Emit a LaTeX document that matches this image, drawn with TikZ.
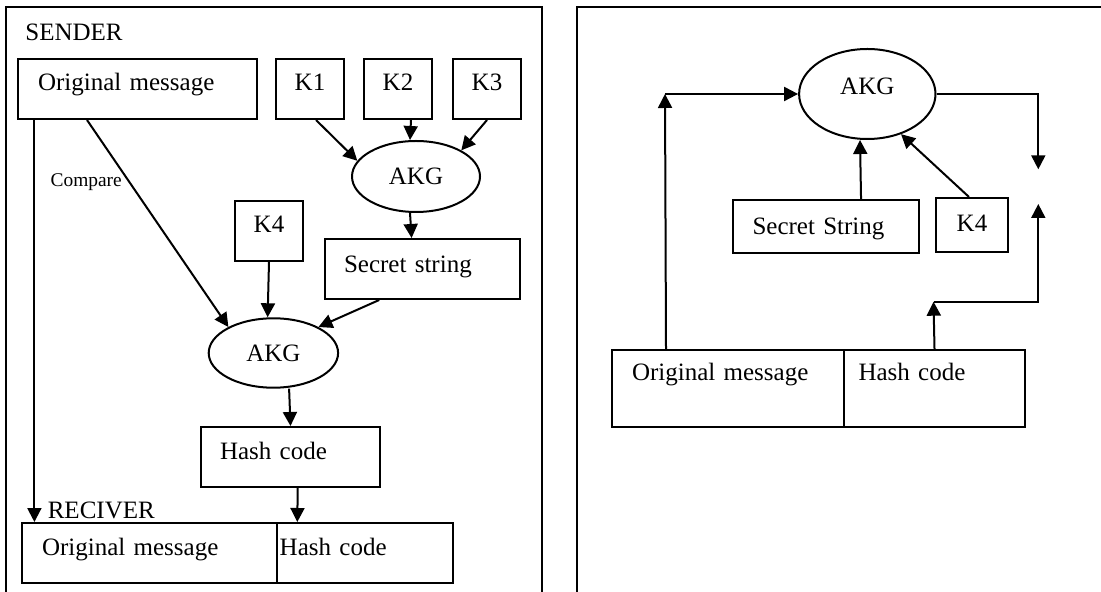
\documentclass[tikz,border=0pt]{standalone}
\usepackage{fontspec}
\setmainfont{Liberation Serif}
\usetikzlibrary{arrows.meta, shapes.geometric}

\tikzset{
  frame/.style={line width=1pt},
  box/.style={draw, line width=1pt, anchor=north west, inner ysep=0pt, align=left},
  kbox/.style={draw, line width=1pt, anchor=north west, inner sep=0pt, align=center,
    text width=34pt, text height=16pt, text depth=14pt},
  akg/.style={draw, ellipse, line width=1pt, inner sep=0pt},
  arr/.style={-{Triangle[length=7pt,width=7pt]}, line width=1pt},
  title/.style={anchor=base west, inner sep=0pt},
}

\begin{document}
\begin{tikzpicture}[x=0.5pt, y=-0.5pt, font=\fontsize{12.5}{15}\selectfont]
  \useasboundingbox (0,0) rectangle (1101,592);
  % the two frames
  \draw[frame] (6,600) -- (6,7) -- (542,7) -- (542,600);
  \draw[frame] (577,600) -- (577,7) -- (1110,7);

  % sender
  \node[title] (sender) at (25,41) {SENDER};
  \node[box, inner xsep=10pt, text width=99.5pt, text height=16pt, text depth=14pt] (msgA) at (17,58) {Original message};
  \node[kbox] (k1) at (275,58) {K1};
  \node[kbox] (k2) at (363,58) {K2};
  \node[kbox] (k3) at (452,58) {K3};
  \node[akg, minimum width=64pt, minimum height=35.5pt] (akgA) at (416,176.5) {AKG};
  \node[kbox] (k4A) at (234,200) {K4};
  \node[box, inner xsep=9.5pt, text width=78.6pt, text height=17pt, text depth=13pt] (secA) at (324,238) {Secret string};
  \node[akg, minimum width=64.7pt, minimum height=34.7pt] (akgB) at (273.4,353) {AKG};
  \node[box, inner xsep=9.5pt, text width=70.5pt, text height=16pt, text depth=14pt] (hashA) at (200,426) {Hash code};

  % reciver
  \node[title] (reciver) at (47.4,518.3) {RECIVER};
  \node[box, inner xsep=10pt, text width=107.3pt, text height=16pt, text depth=14pt] (msgR) at (21,522) {Original message};
  \node[box, inner xsep=1.5pt, text width=85pt, text height=16pt, text depth=14pt] (hashR) at (275.7,522) {Hash code};

  \draw[arr] ([xshift=3pt]k1.south) -- (akgA.165);
  \draw[arr] ([xshift=6.5pt]k2.south) -- ([xshift=-3pt]akgA.north);
  \draw[arr] (k3.south) -- (akgA.30);
  \draw[arr] ([xshift=-3pt]akgA.south) -- ([xshift=-5.5pt]secA.north);
  \draw[arr] ([xshift=-25.25pt]msgA.south) -- node[pos=0.3, left, font=\fontsize{9.7}{11}\selectfont] (cmp) {Compare} (akgB.150);
  \draw[arr] (k4A.south) -- ([xshift=-2.9pt]akgB.north);
  \draw[arr] ([xshift=-21.7pt]secA.south) -- (akgB.30);
  \draw[arr] ([xshift=7.85pt]akgB.south) -- (hashA.north);
  \draw[arr] ([xshift=3.6pt]hashA.south) -- ([xshift=-33.7pt]hashR.north);
  \draw[arr] ([xshift=8.7pt]msgA.south west) -- ([xshift=6.7pt]msgR.north west);

  % right side
  \node[akg, minimum width=68.2pt, minimum height=45pt, text depth=8pt] (akgR) at (867.3,94) {AKG};
  \node[box, inner xsep=10pt, text width=73.35pt, text height=17pt, text depth=9.5pt] (secR) at (731.5,199.3) {Secret String};
  \node[kbox, text width=36pt, text height=16.85pt, text depth=10pt] (k4R) at (935,197) {K4};
  \node[box, inner xsep=10pt, text width=96pt, text height=15.5pt, text depth=22.85pt] (msgB) at (611,349) {Original message};
  \node[box, inner xsep=7.25pt, text width=76pt, text height=15.5pt, text depth=22.85pt] (hashB) at (843,349) {Hash code};

  \coordinate (lc) at (665,94);
  \coordinate (rc) at (1038.3,169.3);
  \coordinate (hc) at (933.5,301.7);
  \coordinate (rc2) at (1038.3,204);

  \draw[arr] ([xshift=-31pt]msgB.north) -- (lc);
  \draw[arr] (lc) -- (akgR.west);
  \draw[arr] (akgR.east) -| (rc);
  \draw[arr] ([xshift=17.6pt]secR.north) -- ([xshift=-3.65pt]akgR.south);
  \draw[arr] ([xshift=-1.5pt]k4R.north) -- (akgR.-50);
  \draw[arr] (hashB.north) -- (hc);
  \draw[arr] (hc) -| (rc2);
\end{tikzpicture}
\end{document}
